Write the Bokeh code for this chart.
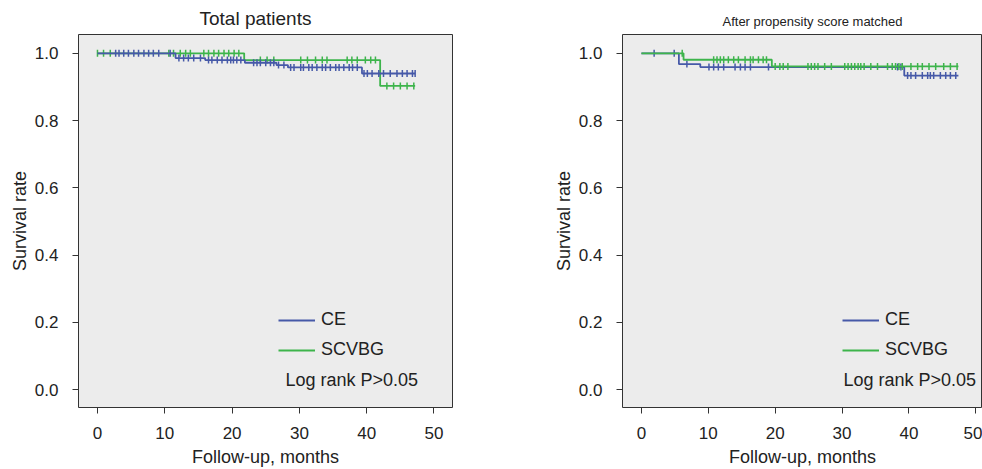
import numpy as np
from bokeh.plotting import figure
from bokeh.models import Legend, LegendItem, Label, FixedTicker, Range1d
from bokeh.layouts import row
from bokeh.embed import file_html
from bokeh.resources import INLINE

# ---------------- data ----------------
# Panel 1: Total patients
ce_L_event_t = [0.0, 11.6, 16.0, 21.9, 26.6, 28.3, 39.3]
ce_L_event_s = [1.0, 0.986, 0.980, 0.972, 0.965, 0.958, 0.940]
ce_L_cens = [2.7, 3.2, 3.9, 4.6, 5.4, 6.1, 6.9, 7.6, 8.3, 9.1, 10.8, 12.1, 12.8, 13.5,
             14.3, 15.3, 16.5, 17.0, 17.8, 18.5, 19.3, 19.8, 20.2, 20.7, 21.3, 23.2,
             23.7, 24.2, 25.0, 25.7, 26.2, 26.9, 27.7, 28.7, 29.2, 30.2, 30.6, 31.4,
             31.9, 32.6, 33.4, 33.9, 34.6, 35.4, 35.9, 36.6, 37.4, 37.9, 38.6, 39.6,
             40.1, 40.8, 41.8, 42.5, 43.5, 44.5, 45.3, 46.0, 46.8, 47.2]
ce_L_end = 47.2

sc_L_event_t = [0.0, 21.8, 42.0]
sc_L_event_s = [1.0, 0.980, 0.903]
sc_L_cens = [0.0, 0.9, 1.9, 10.6, 11.3, 12.3, 13.1, 13.8, 15.8, 16.5, 17.3, 18.0, 18.8,
             19.5, 20.3, 21.0, 24.2, 25.2, 26.2, 30.2, 31.2, 32.4, 33.4, 34.1, 37.1,
             37.8, 38.6, 39.8, 40.6, 41.3, 43.0, 44.0, 45.0, 46.0, 47.0]
sc_L_end = 47.2

# Panel 2: After propensity score matched
ce_R_event_t = [0.0, 5.6, 8.8, 39.3]
ce_R_event_s = [1.0, 0.968, 0.959, 0.934]
ce_R_cens = [1.9, 4.9, 6.8, 10.1, 10.8, 11.5, 12.3, 14.0, 14.8, 15.5, 16.3, 19.0,
             38.3, 38.8, 39.8, 40.3, 41.0, 42.0, 42.8, 43.2, 43.7, 44.7, 45.5, 46.2, 47.0]
ce_R_end = 47.4

sc_R_event_t = [0.0, 6.3, 19.5]
sc_R_event_s = [1.0, 0.981, 0.961]
sc_R_cens = [6.1, 10.8, 11.3, 11.8, 12.3, 13.0, 13.8, 14.5, 15.5, 16.3, 16.7, 17.5,
             18.2, 18.7, 20.0, 20.7, 21.2, 21.9, 24.9, 25.4, 25.9, 26.4, 27.4, 28.4,
             30.4, 30.9, 31.4, 31.9, 32.4, 32.8, 33.3, 34.3, 35.3, 36.8, 37.5, 38.0,
             38.5, 39.0, 40.3, 41.3, 42.0, 43.0, 44.0, 45.2, 46.2, 47.2]
sc_R_end = 47.4

x_ticks = [0, 10, 20, 30, 40, 50]
y_ticks = [0.0, 0.2, 0.4, 0.6, 0.8, 1.0]
series_names = ["CE", "SCVBG"]
titles = ["Total patients", "After propensity score matched"]
pvalue_text = "Log rank P>0.05"

BLUE = "#4659A8"
GREEN = "#3DB44B"
FONT = "Liberation Sans"
TXT = "#222222"


def step_xy(times, surv, end):
    return list(times) + [end], list(surv) + [surv[-1]]


def surv_at(times, surv, pts):
    idx = np.searchsorted(np.array(times), np.array(pts), side="right") - 1
    return list(np.array(surv)[idx])


def make_panel(title, curves, width, xr, border_left, border_right, legend_x, label_x,
               title_offset, title_size):
    p = figure(width=width, height=469, output_backend="svg", toolbar_location=None,
               x_range=Range1d(*xr), y_range=Range1d(-0.053, 1.056),
               min_border_left=border_left, min_border_right=border_right,
               min_border_top=34, min_border_bottom=60)
    p.background_fill_color = "#ECECEC"
    p.border_fill_color = "white"
    p.outline_line_color = "#333333"
    p.outline_line_width = 1
    p.grid.visible = False

    p.title.text = title
    p.title.text_font = FONT
    p.title.text_font_size = title_size
    p.title.text_font_style = "normal"
    p.title.text_color = TXT
    p.title.align = "left"
    p.title.offset = title_offset
    p.title.standoff = 11

    for ax in (p.xaxis[0], p.yaxis[0]):
        ax.axis_line_color = None
        ax.major_tick_in = 0
        ax.major_tick_out = 6
        ax.major_tick_line_color = "#333333"
        ax.minor_tick_line_color = None
        ax.major_label_text_font = FONT
        ax.major_label_text_font_size = "17px"
        ax.major_label_text_color = TXT
        ax.axis_label_text_font = FONT
        ax.axis_label_text_font_size = "18px"
        ax.axis_label_text_font_style = "normal"
        ax.axis_label_text_color = TXT

    p.xaxis.ticker = FixedTicker(ticks=x_ticks)
    p.yaxis.ticker = FixedTicker(ticks=y_ticks)
    p.yaxis.major_label_overrides = {v: f"{v:.1f}" for v in y_ticks}
    p.xaxis.axis_label = "Follow-up, months"
    p.yaxis.axis_label = "Survival rate"
    p.xaxis.major_label_standoff = 13
    p.xaxis.axis_label_standoff = 5
    p.yaxis.major_label_standoff = 14
    p.yaxis.axis_label_standoff = 2

    renderers = {}
    for name, (t, s, end, cens, color) in curves:
        xs, ys = step_xy(t, s, end)
        r = p.step(xs, ys, mode="after", line_color=color, line_width=1.8)
        p.scatter(cens, surv_at(t, s, cens), marker="dash", angle=np.pi / 2, size=7,
                  line_color=color, line_width=1.5)
        renderers[name] = r

    legend = Legend(items=[LegendItem(label=n, renderers=[renderers[n]]) for n in series_names],
                    location=(legend_x, 47))
    legend.border_line_color = None
    legend.background_fill_alpha = 0
    legend.padding = 0
    legend.margin = 0
    legend.spacing = 9
    legend.glyph_width = 37
    legend.glyph_height = 20
    legend.label_height = 20
    legend.label_standoff = 6
    legend.label_text_font = FONT
    legend.label_text_font_size = "18px"
    legend.label_text_color = TXT
    p.add_layout(legend, "center")

    p.add_layout(Label(x=label_x, y=28, x_units="screen", y_units="screen",
                       text=pvalue_text, text_font=FONT, text_font_size="18px",
                       text_color=TXT, text_baseline="middle"))
    return p


p1 = make_panel(titles[0],
                [("SCVBG", (sc_L_event_t, sc_L_event_s, sc_L_end, sc_L_cens, GREEN)),
                 ("CE", (ce_L_event_t, ce_L_event_s, ce_L_end, ce_L_cens, BLUE))],
                width=550, xr=(-2.82, 52.75), border_left=78, border_right=98,
                legend_x=200, label_x=207, title_offset=121, title_size="19px")

p2 = make_panel(titles[1],
                [("CE", (ce_R_event_t, ce_R_event_s, ce_R_end, ce_R_cens, BLUE)),
                 ("SCVBG", (sc_R_event_t, sc_R_event_s, sc_R_end, sc_R_cens, GREEN))],
                width=432, xr=(-2.83, 51.0), border_left=70, border_right=0,
                legend_x=220, label_x=221, title_offset=100, title_size="13px")

layout = row(p1, p2)
open("out.html", "w").write(file_html(layout, INLINE))
